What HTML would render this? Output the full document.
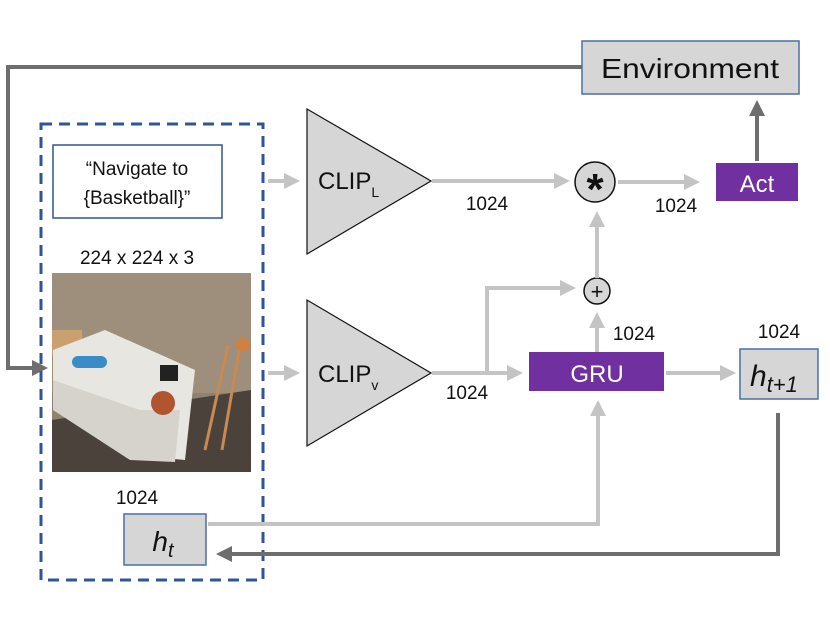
<!DOCTYPE html>
<html><head><meta charset="utf-8"><style>
html,body{margin:0;padding:0;background:#fff;}
svg{display:block;}
text{font-family:"Liberation Sans",sans-serif;}
</style></head><body>
<svg width="830" height="623" viewBox="0 0 830 623" xmlns="http://www.w3.org/2000/svg">
<defs>
<marker id="ag" markerWidth="4" markerHeight="4" refX="3" refY="2" orient="auto" markerUnits="strokeWidth"><path d="M0,0 L4,2 L0,4 z" fill="#c4c4c4"/></marker>
<marker id="ad" markerWidth="4" markerHeight="4" refX="3" refY="2" orient="auto" markerUnits="strokeWidth"><path d="M0,0 L4,2 L0,4 z" fill="#6e6e6e"/></marker>
</defs>
<polyline points="582,67 8,67 8,368 44,368" fill="none" stroke="#6e6e6e" stroke-width="4" marker-end="url(#ad)"/>
<rect x="582" y="41" width="217" height="53" fill="#d6d6d6" stroke="#4a6fa5" stroke-width="1.5"/>
<text x="690" y="78" font-size="28" text-anchor="middle" fill="#111" textLength="178" lengthAdjust="spacingAndGlyphs">Environment</text>
<rect x="41" y="124" width="222" height="456" fill="none" stroke="#2f5597" stroke-width="3" stroke-dasharray="11,7"/>
<rect x="53" y="145" width="169" height="73" fill="#fff" stroke="#2f5597" stroke-width="1.5"/>
<text x="137" y="175" font-size="19" text-anchor="middle" fill="#111">“Navigate to</text>
<text x="137" y="204" font-size="19" text-anchor="middle" fill="#111">{Basketball}”</text>
<text x="137" y="264" font-size="19" text-anchor="middle" fill="#111">224 x 224 x 3</text>
<!-- photo -->
<rect x="52" y="273" width="199" height="199" fill="#8f8270"/>
<rect x="52" y="273" width="199" height="120" fill="#9e8f7c"/>
<polygon points="52,420 251,390 251,472 52,472" fill="#4a423b"/>
<rect x="52" y="330" width="30" height="25" fill="#c9a070"/>
<polygon points="53,350 105,330 195,370 185,460 130,455 53,410" fill="#e8e6e0"/>
<polygon points="53,380 140,410 180,410 175,462 130,460 53,410" fill="#d5d3cc"/>
<rect x="72" y="356" width="35" height="12" rx="6" fill="#3a8cc8"/>
<rect x="160" y="365" width="18" height="16" fill="#222"/>
<circle cx="163" cy="403" r="12" fill="#b05530"/>
<polyline points="228,345 205,450" stroke="#c88a50" stroke-width="3" fill="none"/>
<polyline points="240,345 222,450" stroke="#c88a50" stroke-width="3" fill="none"/>
<circle cx="243" cy="345" r="7" fill="#d08040"/>
<text x="137" y="504" font-size="19" text-anchor="middle" fill="#111">1024</text>
<rect x="124" y="514" width="82" height="51" fill="#d6d6d6" stroke="#4a6fa5" stroke-width="1.5"/>
<text x="163" y="551" font-size="28" font-style="italic" text-anchor="middle" fill="#111" font-family="Liberation Serif,serif">h<tspan font-size="20" dy="6">t</tspan></text>
<line x1="268" y1="181" x2="296" y2="181" stroke="#c4c4c4" stroke-width="4" marker-end="url(#ag)"/>
<line x1="268" y1="373" x2="296" y2="373" stroke="#c4c4c4" stroke-width="4" marker-end="url(#ag)"/>
<polygon points="307,109 307,254 431,181" fill="#d6d6d6" stroke="#111" stroke-width="1.2"/>
<polygon points="307,300 307,446 431,373" fill="#d6d6d6" stroke="#111" stroke-width="1.2"/>
<text x="318" y="189" font-size="24" fill="#111">CLIP<tspan font-size="14" dy="8">L</tspan></text>
<text x="318" y="382" font-size="24" fill="#111">CLIP<tspan font-size="14" dy="8">v</tspan></text>
<line x1="432" y1="181" x2="566" y2="181" stroke="#c4c4c4" stroke-width="4" marker-end="url(#ag)"/>
<text x="487" y="210" font-size="19" text-anchor="middle" fill="#111">1024</text>
<circle cx="595" cy="182" r="20" fill="#d6d6d6" stroke="#111" stroke-width="1.5"/>
<text x="595" y="204" font-size="44" font-weight="bold" text-anchor="middle" fill="#111">*</text>
<line x1="618" y1="182" x2="696" y2="182" stroke="#c4c4c4" stroke-width="4" marker-end="url(#ag)"/>
<text x="676" y="212" font-size="19" text-anchor="middle" fill="#111">1024</text>
<rect x="716" y="163" width="82" height="38" fill="#7030a0"/>
<text x="757" y="192" font-size="24" text-anchor="middle" fill="#fff">Act</text>
<line x1="757" y1="161" x2="757" y2="104" stroke="#6e6e6e" stroke-width="4" marker-end="url(#ad)"/>
<line x1="432" y1="373" x2="519" y2="373" stroke="#c4c4c4" stroke-width="4" marker-end="url(#ag)"/>
<polyline points="487,373 487,288 572,288" fill="none" stroke="#c4c4c4" stroke-width="4" marker-end="url(#ag)"/>
<text x="467" y="399" font-size="19" text-anchor="middle" fill="#111">1024</text>
<circle cx="597" cy="291" r="13" fill="#d6d6d6" stroke="#111" stroke-width="1.5"/>
<text x="597" y="299" font-size="22" text-anchor="middle" fill="#111">+</text>
<line x1="597" y1="278" x2="597" y2="215" stroke="#c4c4c4" stroke-width="4" marker-end="url(#ag)"/>
<line x1="597" y1="352" x2="597" y2="316" stroke="#c4c4c4" stroke-width="4" marker-end="url(#ag)"/>
<text x="634" y="340" font-size="19" text-anchor="middle" fill="#111">1024</text>
<rect x="529" y="352" width="135" height="39" fill="#7030a0"/>
<text x="597" y="382" font-size="24" text-anchor="middle" fill="#fff">GRU</text>
<line x1="666" y1="373" x2="732" y2="373" stroke="#c4c4c4" stroke-width="4" marker-end="url(#ag)"/>
<text x="779" y="338" font-size="19" text-anchor="middle" fill="#111">1024</text>
<rect x="740" y="349" width="78" height="50" fill="#d6d6d6" stroke="#4a6fa5" stroke-width="1.5"/>
<text x="750" y="386" font-size="30" font-style="italic" fill="#111" font-family="Liberation Serif,serif">h<tspan font-size="22" dy="6">t+1</tspan></text>
<polyline points="208,524 598,524 598,404" fill="none" stroke="#c4c4c4" stroke-width="4" marker-end="url(#ag)"/>
<polyline points="778,413 778,554 220,554" fill="none" stroke="#6e6e6e" stroke-width="4" marker-end="url(#ad)"/>
</svg>
</body></html>
